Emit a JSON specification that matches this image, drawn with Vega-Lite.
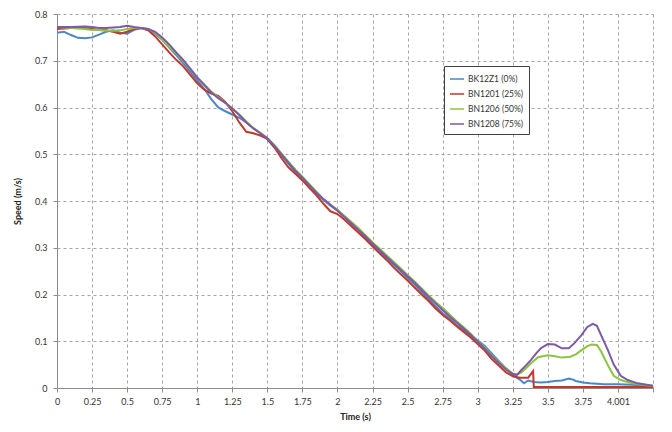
{
  "$schema": "https://vega.github.io/schema/vega-lite/v6.json",
  "autosize": {"type": "none"},
  "padding": {"left": 57, "top": 14, "right": 19, "bottom": 44},
  "width": 596,
  "height": 374,
  "background": "white",
  "config": {
    "font": "Lato",
    "view": {"stroke": null},
    "axis": {
      "labelFont": "Lato", "titleFont": "Lato", "labelFontSize": 9, "titleFontSize": 9,
      "labelColor": "#333333", "titleColor": "#222222", "titleFontWeight": "bold",
      "domainColor": "#8c8c8c", "tickColor": "#8c8c8c", "tickSize": 4,
      "gridColor": "#a6a6a6", "gridDash": [3, 3], "gridWidth": 1
    }
  },
  "datasets": {
    "speed": [
      {"t":0,"v":0.760,"s":"BK12Z1 (0%)"},{"t":0.05,"v":0.762,"s":"BK12Z1 (0%)"},{"t":0.1,"v":0.755,"s":"BK12Z1 (0%)"},{"t":0.15,"v":0.749,"s":"BK12Z1 (0%)"},{"t":0.2,"v":0.748,"s":"BK12Z1 (0%)"},{"t":0.25,"v":0.750,"s":"BK12Z1 (0%)"},{"t":0.3,"v":0.756,"s":"BK12Z1 (0%)"},{"t":0.35,"v":0.762,"s":"BK12Z1 (0%)"},{"t":0.4,"v":0.765,"s":"BK12Z1 (0%)"},{"t":0.45,"v":0.760,"s":"BK12Z1 (0%)"},{"t":0.5,"v":0.758,"s":"BK12Z1 (0%)"},{"t":0.55,"v":0.766,"s":"BK12Z1 (0%)"},{"t":0.6,"v":0.770,"s":"BK12Z1 (0%)"},{"t":0.65,"v":0.766,"s":"BK12Z1 (0%)"},{"t":0.7,"v":0.758,"s":"BK12Z1 (0%)"},{"t":0.75,"v":0.745,"s":"BK12Z1 (0%)"},{"t":0.8,"v":0.728,"s":"BK12Z1 (0%)"},{"t":0.85,"v":0.712,"s":"BK12Z1 (0%)"},{"t":0.9,"v":0.695,"s":"BK12Z1 (0%)"},{"t":0.95,"v":0.676,"s":"BK12Z1 (0%)"},{"t":1.0,"v":0.658,"s":"BK12Z1 (0%)"},{"t":1.05,"v":0.640,"s":"BK12Z1 (0%)"},{"t":1.1,"v":0.618,"s":"BK12Z1 (0%)"},{"t":1.15,"v":0.600,"s":"BK12Z1 (0%)"},{"t":1.2,"v":0.592,"s":"BK12Z1 (0%)"},{"t":1.25,"v":0.585,"s":"BK12Z1 (0%)"},{"t":1.3,"v":0.578,"s":"BK12Z1 (0%)"},{"t":1.35,"v":0.568,"s":"BK12Z1 (0%)"},{"t":1.4,"v":0.556,"s":"BK12Z1 (0%)"},{"t":1.45,"v":0.545,"s":"BK12Z1 (0%)"},{"t":1.5,"v":0.532,"s":"BK12Z1 (0%)"},{"t":1.55,"v":0.515,"s":"BK12Z1 (0%)"},{"t":1.6,"v":0.498,"s":"BK12Z1 (0%)"},{"t":1.65,"v":0.480,"s":"BK12Z1 (0%)"},{"t":1.7,"v":0.462,"s":"BK12Z1 (0%)"},{"t":1.75,"v":0.446,"s":"BK12Z1 (0%)"},{"t":1.8,"v":0.428,"s":"BK12Z1 (0%)"},{"t":1.85,"v":0.415,"s":"BK12Z1 (0%)"},{"t":1.9,"v":0.402,"s":"BK12Z1 (0%)"},{"t":1.95,"v":0.390,"s":"BK12Z1 (0%)"},{"t":2.0,"v":0.380,"s":"BK12Z1 (0%)"},{"t":2.05,"v":0.366,"s":"BK12Z1 (0%)"},{"t":2.1,"v":0.352,"s":"BK12Z1 (0%)"},{"t":2.15,"v":0.338,"s":"BK12Z1 (0%)"},{"t":2.2,"v":0.322,"s":"BK12Z1 (0%)"},{"t":2.25,"v":0.306,"s":"BK12Z1 (0%)"},{"t":2.3,"v":0.292,"s":"BK12Z1 (0%)"},{"t":2.35,"v":0.278,"s":"BK12Z1 (0%)"},{"t":2.4,"v":0.264,"s":"BK12Z1 (0%)"},{"t":2.45,"v":0.250,"s":"BK12Z1 (0%)"},{"t":2.5,"v":0.236,"s":"BK12Z1 (0%)"},{"t":2.55,"v":0.222,"s":"BK12Z1 (0%)"},{"t":2.6,"v":0.206,"s":"BK12Z1 (0%)"},{"t":2.65,"v":0.190,"s":"BK12Z1 (0%)"},{"t":2.7,"v":0.175,"s":"BK12Z1 (0%)"},{"t":2.75,"v":0.160,"s":"BK12Z1 (0%)"},{"t":2.8,"v":0.148,"s":"BK12Z1 (0%)"},{"t":2.85,"v":0.134,"s":"BK12Z1 (0%)"},{"t":2.9,"v":0.124,"s":"BK12Z1 (0%)"},{"t":2.95,"v":0.112,"s":"BK12Z1 (0%)"},{"t":3.0,"v":0.102,"s":"BK12Z1 (0%)"},{"t":3.05,"v":0.090,"s":"BK12Z1 (0%)"},{"t":3.1,"v":0.074,"s":"BK12Z1 (0%)"},{"t":3.15,"v":0.058,"s":"BK12Z1 (0%)"},{"t":3.2,"v":0.042,"s":"BK12Z1 (0%)"},{"t":3.25,"v":0.028,"s":"BK12Z1 (0%)"},{"t":3.3,"v":0.018,"s":"BK12Z1 (0%)"},{"t":3.33,"v":0.010,"s":"BK12Z1 (0%)"},{"t":3.36,"v":0.016,"s":"BK12Z1 (0%)"},{"t":3.4,"v":0.013,"s":"BK12Z1 (0%)"},{"t":3.45,"v":0.012,"s":"BK12Z1 (0%)"},{"t":3.5,"v":0.013,"s":"BK12Z1 (0%)"},{"t":3.55,"v":0.015,"s":"BK12Z1 (0%)"},{"t":3.6,"v":0.016,"s":"BK12Z1 (0%)"},{"t":3.65,"v":0.020,"s":"BK12Z1 (0%)"},{"t":3.68,"v":0.018,"s":"BK12Z1 (0%)"},{"t":3.7,"v":0.015,"s":"BK12Z1 (0%)"},{"t":3.75,"v":0.012,"s":"BK12Z1 (0%)"},{"t":3.8,"v":0.010,"s":"BK12Z1 (0%)"},{"t":3.9,"v":0.008,"s":"BK12Z1 (0%)"},{"t":4.0,"v":0.008,"s":"BK12Z1 (0%)"},{"t":4.1,"v":0.007,"s":"BK12Z1 (0%)"},{"t":4.2,"v":0.005,"s":"BK12Z1 (0%)"},{"t":4.25,"v":0.004,"s":"BK12Z1 (0%)"},

      {"t":0,"v":0.768,"s":"BN1201 (25%)"},{"t":0.1,"v":0.770,"s":"BN1201 (25%)"},{"t":0.2,"v":0.770,"s":"BN1201 (25%)"},{"t":0.25,"v":0.768,"s":"BN1201 (25%)"},{"t":0.3,"v":0.766,"s":"BN1201 (25%)"},{"t":0.35,"v":0.765,"s":"BN1201 (25%)"},{"t":0.4,"v":0.762,"s":"BN1201 (25%)"},{"t":0.45,"v":0.758,"s":"BN1201 (25%)"},{"t":0.5,"v":0.762,"s":"BN1201 (25%)"},{"t":0.55,"v":0.768,"s":"BN1201 (25%)"},{"t":0.6,"v":0.770,"s":"BN1201 (25%)"},{"t":0.65,"v":0.765,"s":"BN1201 (25%)"},{"t":0.7,"v":0.752,"s":"BN1201 (25%)"},{"t":0.75,"v":0.735,"s":"BN1201 (25%)"},{"t":0.8,"v":0.718,"s":"BN1201 (25%)"},{"t":0.85,"v":0.702,"s":"BN1201 (25%)"},{"t":0.9,"v":0.688,"s":"BN1201 (25%)"},{"t":0.95,"v":0.670,"s":"BN1201 (25%)"},{"t":1.0,"v":0.652,"s":"BN1201 (25%)"},{"t":1.05,"v":0.638,"s":"BN1201 (25%)"},{"t":1.1,"v":0.630,"s":"BN1201 (25%)"},{"t":1.15,"v":0.625,"s":"BN1201 (25%)"},{"t":1.2,"v":0.612,"s":"BN1201 (25%)"},{"t":1.25,"v":0.592,"s":"BN1201 (25%)"},{"t":1.3,"v":0.568,"s":"BN1201 (25%)"},{"t":1.35,"v":0.548,"s":"BN1201 (25%)"},{"t":1.4,"v":0.545,"s":"BN1201 (25%)"},{"t":1.45,"v":0.540,"s":"BN1201 (25%)"},{"t":1.5,"v":0.533,"s":"BN1201 (25%)"},{"t":1.55,"v":0.515,"s":"BN1201 (25%)"},{"t":1.6,"v":0.492,"s":"BN1201 (25%)"},{"t":1.65,"v":0.472,"s":"BN1201 (25%)"},{"t":1.7,"v":0.458,"s":"BN1201 (25%)"},{"t":1.75,"v":0.444,"s":"BN1201 (25%)"},{"t":1.8,"v":0.428,"s":"BN1201 (25%)"},{"t":1.85,"v":0.412,"s":"BN1201 (25%)"},{"t":1.9,"v":0.394,"s":"BN1201 (25%)"},{"t":1.95,"v":0.378,"s":"BN1201 (25%)"},{"t":2.0,"v":0.372,"s":"BN1201 (25%)"},{"t":2.05,"v":0.360,"s":"BN1201 (25%)"},{"t":2.1,"v":0.346,"s":"BN1201 (25%)"},{"t":2.15,"v":0.332,"s":"BN1201 (25%)"},{"t":2.2,"v":0.318,"s":"BN1201 (25%)"},{"t":2.25,"v":0.303,"s":"BN1201 (25%)"},{"t":2.3,"v":0.288,"s":"BN1201 (25%)"},{"t":2.35,"v":0.274,"s":"BN1201 (25%)"},{"t":2.4,"v":0.258,"s":"BN1201 (25%)"},{"t":2.45,"v":0.244,"s":"BN1201 (25%)"},{"t":2.5,"v":0.230,"s":"BN1201 (25%)"},{"t":2.55,"v":0.215,"s":"BN1201 (25%)"},{"t":2.6,"v":0.200,"s":"BN1201 (25%)"},{"t":2.65,"v":0.186,"s":"BN1201 (25%)"},{"t":2.7,"v":0.170,"s":"BN1201 (25%)"},{"t":2.75,"v":0.156,"s":"BN1201 (25%)"},{"t":2.8,"v":0.145,"s":"BN1201 (25%)"},{"t":2.85,"v":0.132,"s":"BN1201 (25%)"},{"t":2.9,"v":0.120,"s":"BN1201 (25%)"},{"t":2.95,"v":0.108,"s":"BN1201 (25%)"},{"t":3.0,"v":0.094,"s":"BN1201 (25%)"},{"t":3.05,"v":0.080,"s":"BN1201 (25%)"},{"t":3.1,"v":0.062,"s":"BN1201 (25%)"},{"t":3.15,"v":0.048,"s":"BN1201 (25%)"},{"t":3.2,"v":0.034,"s":"BN1201 (25%)"},{"t":3.25,"v":0.025,"s":"BN1201 (25%)"},{"t":3.3,"v":0.022,"s":"BN1201 (25%)"},{"t":3.36,"v":0.022,"s":"BN1201 (25%)"},{"t":3.395,"v":0.036,"s":"BN1201 (25%)"},{"t":3.4,"v":0.002,"s":"BN1201 (25%)"},{"t":3.6,"v":0.002,"s":"BN1201 (25%)"},{"t":3.8,"v":0.002,"s":"BN1201 (25%)"},{"t":4.0,"v":0.002,"s":"BN1201 (25%)"},{"t":4.25,"v":0.002,"s":"BN1201 (25%)"},

      {"t":0,"v":0.772,"s":"BN1206 (50%)"},{"t":0.1,"v":0.770,"s":"BN1206 (50%)"},{"t":0.2,"v":0.768,"s":"BN1206 (50%)"},{"t":0.25,"v":0.766,"s":"BN1206 (50%)"},{"t":0.3,"v":0.766,"s":"BN1206 (50%)"},{"t":0.35,"v":0.764,"s":"BN1206 (50%)"},{"t":0.4,"v":0.764,"s":"BN1206 (50%)"},{"t":0.45,"v":0.765,"s":"BN1206 (50%)"},{"t":0.5,"v":0.768,"s":"BN1206 (50%)"},{"t":0.55,"v":0.770,"s":"BN1206 (50%)"},{"t":0.6,"v":0.770,"s":"BN1206 (50%)"},{"t":0.65,"v":0.768,"s":"BN1206 (50%)"},{"t":0.7,"v":0.760,"s":"BN1206 (50%)"},{"t":0.75,"v":0.746,"s":"BN1206 (50%)"},{"t":0.8,"v":0.730,"s":"BN1206 (50%)"},{"t":0.85,"v":0.716,"s":"BN1206 (50%)"},{"t":0.9,"v":0.700,"s":"BN1206 (50%)"},{"t":0.95,"v":0.682,"s":"BN1206 (50%)"},{"t":1.0,"v":0.665,"s":"BN1206 (50%)"},{"t":1.05,"v":0.650,"s":"BN1206 (50%)"},{"t":1.1,"v":0.634,"s":"BN1206 (50%)"},{"t":1.15,"v":0.622,"s":"BN1206 (50%)"},{"t":1.2,"v":0.610,"s":"BN1206 (50%)"},{"t":1.25,"v":0.598,"s":"BN1206 (50%)"},{"t":1.3,"v":0.585,"s":"BN1206 (50%)"},{"t":1.35,"v":0.570,"s":"BN1206 (50%)"},{"t":1.4,"v":0.556,"s":"BN1206 (50%)"},{"t":1.45,"v":0.546,"s":"BN1206 (50%)"},{"t":1.5,"v":0.535,"s":"BN1206 (50%)"},{"t":1.55,"v":0.520,"s":"BN1206 (50%)"},{"t":1.6,"v":0.502,"s":"BN1206 (50%)"},{"t":1.65,"v":0.484,"s":"BN1206 (50%)"},{"t":1.7,"v":0.467,"s":"BN1206 (50%)"},{"t":1.75,"v":0.452,"s":"BN1206 (50%)"},{"t":1.8,"v":0.436,"s":"BN1206 (50%)"},{"t":1.85,"v":0.420,"s":"BN1206 (50%)"},{"t":1.9,"v":0.404,"s":"BN1206 (50%)"},{"t":1.95,"v":0.392,"s":"BN1206 (50%)"},{"t":2.0,"v":0.381,"s":"BN1206 (50%)"},{"t":2.05,"v":0.368,"s":"BN1206 (50%)"},{"t":2.1,"v":0.355,"s":"BN1206 (50%)"},{"t":2.15,"v":0.342,"s":"BN1206 (50%)"},{"t":2.2,"v":0.327,"s":"BN1206 (50%)"},{"t":2.25,"v":0.312,"s":"BN1206 (50%)"},{"t":2.3,"v":0.298,"s":"BN1206 (50%)"},{"t":2.35,"v":0.284,"s":"BN1206 (50%)"},{"t":2.4,"v":0.270,"s":"BN1206 (50%)"},{"t":2.45,"v":0.256,"s":"BN1206 (50%)"},{"t":2.5,"v":0.242,"s":"BN1206 (50%)"},{"t":2.55,"v":0.228,"s":"BN1206 (50%)"},{"t":2.6,"v":0.213,"s":"BN1206 (50%)"},{"t":2.65,"v":0.198,"s":"BN1206 (50%)"},{"t":2.7,"v":0.184,"s":"BN1206 (50%)"},{"t":2.75,"v":0.171,"s":"BN1206 (50%)"},{"t":2.8,"v":0.157,"s":"BN1206 (50%)"},{"t":2.85,"v":0.143,"s":"BN1206 (50%)"},{"t":2.9,"v":0.130,"s":"BN1206 (50%)"},{"t":2.95,"v":0.116,"s":"BN1206 (50%)"},{"t":3.0,"v":0.100,"s":"BN1206 (50%)"},{"t":3.05,"v":0.086,"s":"BN1206 (50%)"},{"t":3.1,"v":0.070,"s":"BN1206 (50%)"},{"t":3.15,"v":0.056,"s":"BN1206 (50%)"},{"t":3.2,"v":0.043,"s":"BN1206 (50%)"},{"t":3.25,"v":0.031,"s":"BN1206 (50%)"},{"t":3.28,"v":0.029,"s":"BN1206 (50%)"},{"t":3.31,"v":0.033,"s":"BN1206 (50%)"},{"t":3.35,"v":0.044,"s":"BN1206 (50%)"},{"t":3.38,"v":0.053,"s":"BN1206 (50%)"},{"t":3.43,"v":0.066,"s":"BN1206 (50%)"},{"t":3.5,"v":0.070,"s":"BN1206 (50%)"},{"t":3.55,"v":0.068,"s":"BN1206 (50%)"},{"t":3.6,"v":0.065,"s":"BN1206 (50%)"},{"t":3.66,"v":0.067,"s":"BN1206 (50%)"},{"t":3.7,"v":0.072,"s":"BN1206 (50%)"},{"t":3.74,"v":0.081,"s":"BN1206 (50%)"},{"t":3.78,"v":0.089,"s":"BN1206 (50%)"},{"t":3.81,"v":0.093,"s":"BN1206 (50%)"},{"t":3.85,"v":0.092,"s":"BN1206 (50%)"},{"t":3.88,"v":0.078,"s":"BN1206 (50%)"},{"t":3.91,"v":0.060,"s":"BN1206 (50%)"},{"t":3.94,"v":0.042,"s":"BN1206 (50%)"},{"t":3.97,"v":0.026,"s":"BN1206 (50%)"},{"t":4.02,"v":0.017,"s":"BN1206 (50%)"},{"t":4.1,"v":0.010,"s":"BN1206 (50%)"},{"t":4.2,"v":0.006,"s":"BN1206 (50%)"},{"t":4.25,"v":0.005,"s":"BN1206 (50%)"},

      {"t":0,"v":0.772,"s":"BN1208 (75%)"},{"t":0.1,"v":0.772,"s":"BN1208 (75%)"},{"t":0.2,"v":0.773,"s":"BN1208 (75%)"},{"t":0.25,"v":0.772,"s":"BN1208 (75%)"},{"t":0.3,"v":0.770,"s":"BN1208 (75%)"},{"t":0.35,"v":0.770,"s":"BN1208 (75%)"},{"t":0.4,"v":0.771,"s":"BN1208 (75%)"},{"t":0.45,"v":0.772,"s":"BN1208 (75%)"},{"t":0.5,"v":0.775,"s":"BN1208 (75%)"},{"t":0.55,"v":0.772,"s":"BN1208 (75%)"},{"t":0.6,"v":0.770,"s":"BN1208 (75%)"},{"t":0.65,"v":0.768,"s":"BN1208 (75%)"},{"t":0.7,"v":0.762,"s":"BN1208 (75%)"},{"t":0.75,"v":0.750,"s":"BN1208 (75%)"},{"t":0.8,"v":0.735,"s":"BN1208 (75%)"},{"t":0.85,"v":0.718,"s":"BN1208 (75%)"},{"t":0.9,"v":0.702,"s":"BN1208 (75%)"},{"t":0.95,"v":0.683,"s":"BN1208 (75%)"},{"t":1.0,"v":0.664,"s":"BN1208 (75%)"},{"t":1.05,"v":0.648,"s":"BN1208 (75%)"},{"t":1.1,"v":0.632,"s":"BN1208 (75%)"},{"t":1.15,"v":0.620,"s":"BN1208 (75%)"},{"t":1.2,"v":0.610,"s":"BN1208 (75%)"},{"t":1.25,"v":0.598,"s":"BN1208 (75%)"},{"t":1.3,"v":0.584,"s":"BN1208 (75%)"},{"t":1.35,"v":0.568,"s":"BN1208 (75%)"},{"t":1.4,"v":0.555,"s":"BN1208 (75%)"},{"t":1.45,"v":0.545,"s":"BN1208 (75%)"},{"t":1.5,"v":0.534,"s":"BN1208 (75%)"},{"t":1.55,"v":0.518,"s":"BN1208 (75%)"},{"t":1.6,"v":0.500,"s":"BN1208 (75%)"},{"t":1.65,"v":0.482,"s":"BN1208 (75%)"},{"t":1.7,"v":0.465,"s":"BN1208 (75%)"},{"t":1.75,"v":0.450,"s":"BN1208 (75%)"},{"t":1.8,"v":0.434,"s":"BN1208 (75%)"},{"t":1.85,"v":0.418,"s":"BN1208 (75%)"},{"t":1.9,"v":0.404,"s":"BN1208 (75%)"},{"t":1.95,"v":0.392,"s":"BN1208 (75%)"},{"t":2.0,"v":0.379,"s":"BN1208 (75%)"},{"t":2.05,"v":0.366,"s":"BN1208 (75%)"},{"t":2.1,"v":0.352,"s":"BN1208 (75%)"},{"t":2.15,"v":0.338,"s":"BN1208 (75%)"},{"t":2.2,"v":0.324,"s":"BN1208 (75%)"},{"t":2.25,"v":0.309,"s":"BN1208 (75%)"},{"t":2.3,"v":0.295,"s":"BN1208 (75%)"},{"t":2.35,"v":0.281,"s":"BN1208 (75%)"},{"t":2.4,"v":0.267,"s":"BN1208 (75%)"},{"t":2.45,"v":0.253,"s":"BN1208 (75%)"},{"t":2.5,"v":0.239,"s":"BN1208 (75%)"},{"t":2.55,"v":0.225,"s":"BN1208 (75%)"},{"t":2.6,"v":0.210,"s":"BN1208 (75%)"},{"t":2.65,"v":0.195,"s":"BN1208 (75%)"},{"t":2.7,"v":0.181,"s":"BN1208 (75%)"},{"t":2.75,"v":0.167,"s":"BN1208 (75%)"},{"t":2.8,"v":0.153,"s":"BN1208 (75%)"},{"t":2.85,"v":0.140,"s":"BN1208 (75%)"},{"t":2.9,"v":0.127,"s":"BN1208 (75%)"},{"t":2.95,"v":0.114,"s":"BN1208 (75%)"},{"t":3.0,"v":0.099,"s":"BN1208 (75%)"},{"t":3.05,"v":0.084,"s":"BN1208 (75%)"},{"t":3.1,"v":0.068,"s":"BN1208 (75%)"},{"t":3.15,"v":0.054,"s":"BN1208 (75%)"},{"t":3.2,"v":0.040,"s":"BN1208 (75%)"},{"t":3.25,"v":0.030,"s":"BN1208 (75%)"},{"t":3.28,"v":0.028,"s":"BN1208 (75%)"},{"t":3.31,"v":0.038,"s":"BN1208 (75%)"},{"t":3.35,"v":0.050,"s":"BN1208 (75%)"},{"t":3.38,"v":0.060,"s":"BN1208 (75%)"},{"t":3.42,"v":0.075,"s":"BN1208 (75%)"},{"t":3.45,"v":0.085,"s":"BN1208 (75%)"},{"t":3.5,"v":0.094,"s":"BN1208 (75%)"},{"t":3.55,"v":0.093,"s":"BN1208 (75%)"},{"t":3.6,"v":0.085,"s":"BN1208 (75%)"},{"t":3.65,"v":0.085,"s":"BN1208 (75%)"},{"t":3.69,"v":0.096,"s":"BN1208 (75%)"},{"t":3.74,"v":0.113,"s":"BN1208 (75%)"},{"t":3.78,"v":0.130,"s":"BN1208 (75%)"},{"t":3.82,"v":0.137,"s":"BN1208 (75%)"},{"t":3.85,"v":0.133,"s":"BN1208 (75%)"},{"t":3.88,"v":0.113,"s":"BN1208 (75%)"},{"t":3.93,"v":0.080,"s":"BN1208 (75%)"},{"t":3.97,"v":0.050,"s":"BN1208 (75%)"},{"t":4.02,"v":0.026,"s":"BN1208 (75%)"},{"t":4.07,"v":0.017,"s":"BN1208 (75%)"},{"t":4.14,"v":0.010,"s":"BN1208 (75%)"},{"t":4.25,"v":0.005,"s":"BN1208 (75%)"}
    ]
  },
  "data": {"name": "speed"},
  "mark": {"type": "line", "strokeWidth": 2, "clip": true},
  "encoding": {
    "x": {
      "field": "t", "type": "quantitative",
      "scale": {"domain": [0, 4.25], "nice": false, "zero": false},
      "axis": {
        "title": "Time (s)",
        "values": [0,0.25,0.5,0.75,1,1.25,1.5,1.75,2,2.25,2.5,2.75,3,3.25,3.5,3.75,4,4.25],
        "labelExpr": "datum.value == 4 ? '4.001' : (datum.value == 4.25 ? '' : format(datum.value, '~g'))",
        "labelPadding": 5, "titlePadding": 6, "labelFlush": false
      }
    },
    "y": {
      "field": "v", "type": "quantitative",
      "scale": {"domain": [0, 0.8], "nice": false},
      "axis": {
        "title": "Speed (m/s)",
        "values": [0,0.1,0.2,0.3,0.4,0.5,0.6,0.7,0.8],
        "format": "~g",
        "labelPadding": 6, "titlePadding": 12
      }
    },
    "color": {
      "field": "s", "type": "nominal",
      "scale": {
        "domain": ["BK12Z1 (0%)", "BN1201 (25%)", "BN1206 (50%)", "BN1208 (75%)"],
        "range": ["#4a86c8", "#c0392b", "#8cc43f", "#7b5aa6"]
      },
      "legend": {
        "title": null, "orient": "none", "legendX": 387, "legendY": 52,
        "symbolType": "stroke", "symbolStrokeWidth": 1.5, "symbolSize": 196,
        "labelFont": "Lato", "labelFontSize": 8.5, "labelColor": "#333333",
        "strokeColor": "#404040", "fillColor": "white", "padding": 5,
        "rowPadding": 2, "labelOffset": 3
      }
    }
  }
}
